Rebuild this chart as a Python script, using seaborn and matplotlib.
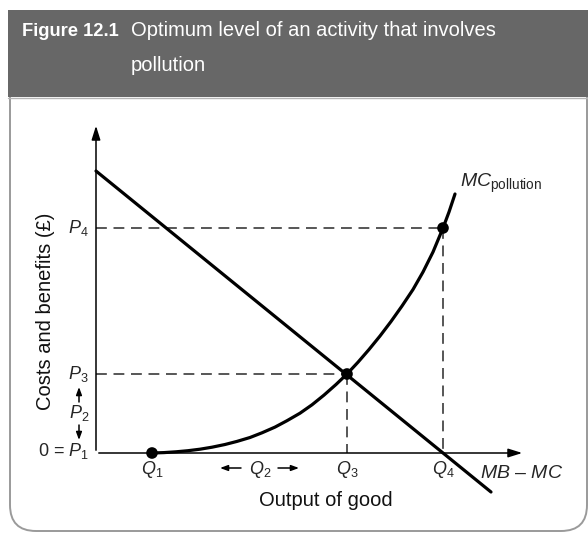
import matplotlib
matplotlib.use("Agg")
import matplotlib.pyplot as plt
from matplotlib.patches import Rectangle, FancyBboxPatch
import seaborn as sns
import pandas as pd

sns.set_theme(style="white")
plt.rcParams["font.family"] = ["Liberation Sans", "DejaVu Sans"]
plt.rcParams["mathtext.fontset"] = "custom"
plt.rcParams["mathtext.rm"] = "Liberation Sans"
plt.rcParams["mathtext.it"] = "Liberation Sans:italic"
plt.rcParams["mathtext.bf"] = "Liberation Sans:bold"

# ---- chart data (output on x, costs/benefits on y, arbitrary units) ----
Q1, Q3, Q4 = 56, 251, 347
P2, P3, P4 = 40, 79, 225

# net marginal benefit line MB - MC
mb_x = [0, 395]
mb_y = [282, -39]

# marginal pollution cost curve
mc_x = [56, 68, 80, 92, 104, 116, 129, 141, 154, 166, 179, 191, 204, 216, 228,
        240, 251, 262, 273, 284, 295, 306, 317, 327, 337, 347, 353, 359]
mc_y = [0, 0.4, 1.2, 2.3, 3.8, 5.8, 8.5, 11.6, 15.5, 20.2, 25.9, 32.3, 39.8, 48.2, 57.9,
        68.5, 79, 90.8, 103.5, 117, 131.5, 147, 163.5, 181, 201, 225, 241, 259]

dots_x = [Q1, Q3, Q4]
dots_y = [0, P3, P4]

title_bold = "Figure 12.1"
title_lines = ["Optimum level of an activity that involves", "pollution"]
x_title = "Output of good"
y_title = "Costs and benefits (£)"

W, H = 588, 533
fig = plt.figure(figsize=(W / 100, H / 100), dpi=100)

# decoration layer in pixel units
deco = fig.add_axes([0, 0, 1, 1])
deco.set_xlim(0, W)
deco.set_ylim(H, 0)
deco.axis("off")
panel = FancyBboxPatch((10, 60), 577, 471, boxstyle="round,pad=0,rounding_size=26",
                       facecolor="white", edgecolor="#9a9a9a", lw=1.4)
deco.add_patch(panel)
deco.add_patch(Rectangle((8, 10), 590, 87, facecolor="#676767", edgecolor="none"))
deco.plot([8, 588], [97.5, 97.5], color="#b5b5b5", lw=1)
deco.text(22, 36, title_bold, color="white", fontsize=13.2, fontweight="bold", va="baseline")
deco.text(131, 36, title_lines[0], color="white", fontsize=14.5, va="baseline")
deco.text(131, 71, title_lines[1], color="white", fontsize=14.5, va="baseline")
deco.text(46, 311, y_title, rotation=90, fontsize=14.5, ha="center", va="center",
          color="#111111")

# chart layer: origin of the axes at the corner of the two arrows
ax = fig.add_axes([0, 0, 1, 1])
ax.set_xlim(-96, W - 96)
ax.set_ylim(-(H - 453), 453)
ax.patch.set_alpha(0)

line_kw = dict(color="black", lw=1.1)
big = "-|>,head_length=0.7,head_width=0.22"
ax.annotate("", xy=(0, 330), xytext=(0, 0), arrowprops=dict(arrowstyle=big, **line_kw))
ax.annotate("", xy=(429, 0), xytext=(0, 0), arrowprops=dict(arrowstyle=big, **line_kw))

# guide lines
dash = dict(color="#3a3a3a", lw=1.2, dashes=(6.5, 4))
ax.plot([0, Q4], [P4, P4], **dash)
ax.plot([Q4, Q4], [P4, 0], **dash)
ax.plot([0, Q3], [P3, P3], **dash)
ax.plot([Q3, Q3], [P3, 0], **dash)

df_mb = pd.DataFrame({"x": mb_x, "y": mb_y})
df_mc = pd.DataFrame({"x": mc_x, "y": mc_y})
sns.lineplot(data=df_mb, x="x", y="y", ax=ax, color="black", lw=2.3, sort=False)
sns.lineplot(data=df_mc, x="x", y="y", ax=ax, color="black", lw=2.3, sort=False)
sns.scatterplot(x=dots_x, y=dots_y, ax=ax, color="black", s=70, edgecolor="none", zorder=5)
ax.axis("off")

fs = 13
# y-axis labels
ax.text(-7, P4, r"$P_\mathrm{4}$", fontsize=fs, ha="right", va="center")
ax.text(-7, P3, r"$P_\mathrm{3}$", fontsize=fs, ha="right", va="center")
ax.text(-7, P2, r"$P_\mathrm{2}$", fontsize=fs, ha="right", va="center")
ax.text(-7, 2, r"0 = $P_\mathrm{1}$", fontsize=fs, ha="right", va="center")
small = dict(arrowstyle="-|>,head_length=0.38,head_width=0.14", color="black", lw=1.1,
             shrinkA=0, shrinkB=0)
ax.annotate("", xy=(-17, 66), xytext=(-17, 51), arrowprops=small)
ax.annotate("", xy=(-17, 13), xytext=(-17, 28), arrowprops=small)

# x-axis labels
ax.text(Q1, -17, r"$Q_\mathrm{1}$", fontsize=fs, ha="center", va="center")
ax.text(164, -17, r"$Q_\mathrm{2}$", fontsize=fs, ha="center", va="center")
ax.annotate("", xy=(124, -15), xytext=(145, -15), arrowprops=small)
ax.annotate("", xy=(203, -15), xytext=(182, -15), arrowprops=small)
ax.text(Q3, -17, r"$Q_\mathrm{3}$", fontsize=fs, ha="center", va="center")
ax.text(Q4, -17, r"$Q_\mathrm{4}$", fontsize=fs, ha="center", va="center")
ax.text(384, -20, r"$MB$ – $MC$", fontsize=14, ha="left", va="center")
ax.text(364, 270, r"$MC_\mathrm{pollution}$", fontsize=14, ha="left", va="center")
ax.text(230, -47, x_title, fontsize=14.5, ha="center", va="center", color="#111111")

fig.savefig("out.png", dpi=100)
